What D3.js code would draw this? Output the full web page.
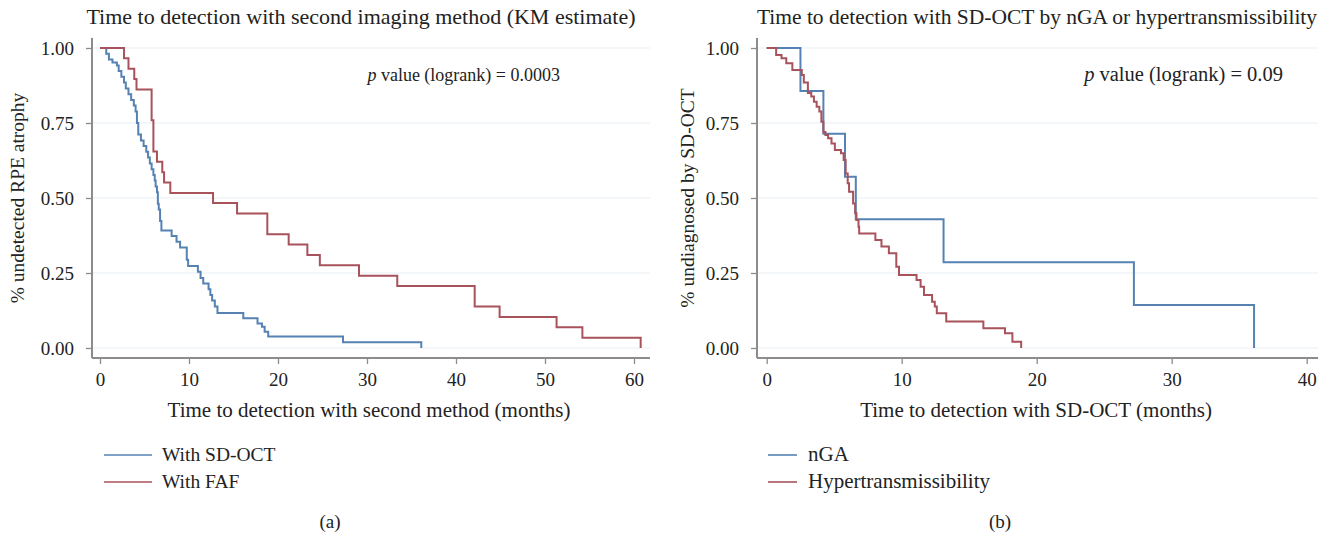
<!DOCTYPE html>
<html>
<head>
<meta charset="utf-8">
<script src="https://cdn.jsdelivr.net/npm/d3@7"></script>
<style>
  html, body { margin: 0; padding: 0; background: #ffffff; }
  svg { display: block; font-family: "Liberation Serif", "Times New Roman", serif; }
</style>
</head>
<body>
<svg id="chart" width="1328" height="533"></svg>
<script>
// ---------- DATA ----------
const panelTitles = [
  "Time to detection with second imaging method (KM estimate)",
  "Time to detection with SD-OCT by nGA or hypertransmissibility"
];
const xAxisTitles = [
  "Time to detection with second method (months)",
  "Time to detection with SD-OCT (months)"
];
const yAxisTitles = ["% undetected RPE atrophy", "% undiagnosed by SD-OCT"];
const pValues = ["0.0003", "0.09"];
const panelLabels = ["(a)", "(b)"];
const yTicks = [0, 0.25, 0.5, 0.75, 1];
const xTicksA = [0, 10, 20, 30, 40, 50, 60];
const xTicksB = [0, 10, 20, 30, 40];
const seriesNamesA = ["With SD-OCT", "With FAF"];
const seriesNamesB = ["nGA", "Hypertransmissibility"];

// [time (months), survival]
const withSDOCT = [
  [0,1.0],[0.7,0.981],[1.0,0.962],[1.4,0.952],[1.9,0.942],[2.1,0.923],[2.4,0.904],[2.7,0.885],
  [2.9,0.865],[3.2,0.846],[3.5,0.827],[3.8,0.808],[4.0,0.788],[4.15,0.75],[4.3,0.712],[4.6,0.692],
  [4.9,0.673],[5.2,0.654],[5.4,0.635],[5.6,0.615],[5.8,0.596],[6.0,0.577],[6.15,0.558],[6.25,0.538],
  [6.4,0.519],[6.5,0.481],[6.6,0.462],[6.75,0.423],[6.9,0.392],[8.05,0.373],[8.6,0.354],[9.0,0.335],
  [9.75,0.294],[9.9,0.273],[11.0,0.254],[11.3,0.233],[11.6,0.215],[12.2,0.196],[12.4,0.177],
  [12.6,0.158],[12.9,0.138],[13.2,0.117],[16.1,0.099],[17.7,0.082],[18.2,0.071],[18.5,0.054],
  [18.9,0.038],[27.3,0.019],[36.1,0]
];
const withFAF = [
  [0,1.0],[2.7,0.966],[3.2,0.931],[3.85,0.897],[4.1,0.862],[5.8,0.759],[6.0,0.655],[6.4,0.621],
  [7.0,0.586],[7.2,0.552],[7.9,0.517],[12.7,0.483],[15.4,0.448],[18.8,0.379],[21.2,0.345],
  [23.3,0.310],[24.7,0.276],[29.1,0.241],[33.4,0.207],[42.1,0.138],[44.9,0.103],[51.3,0.069],
  [54.2,0.034],[60.75,0]
];
const nGA = [
  [0,1.0],[2.5,0.857],[4.2,0.714],[5.8,0.571],[6.6,0.429],[13.1,0.286],[27.2,0.143],[36.1,0]
];
const hypertrans = [
  [0,1.0],[0.7,0.977],[1.1,0.966],[1.45,0.949],[1.9,0.927],[2.6,0.91],[2.75,0.885],[3.05,0.85],
  [3.3,0.838],[3.5,0.821],[3.7,0.804],[3.9,0.788],[4.05,0.754],[4.2,0.72],[4.35,0.71],[4.55,0.699],
  [4.8,0.682],[5.05,0.66],[5.5,0.649],[5.7,0.627],[5.85,0.582],[6.0,0.549],[6.1,0.521],[6.4,0.482],
  [6.55,0.449],[6.65,0.427],[6.8,0.404],[6.85,0.382],[8.05,0.36],[8.5,0.338],[9.05,0.316],
  [9.6,0.271],[9.8,0.243],[11.1,0.227],[11.4,0.204],[11.65,0.177],[12.25,0.154],[12.45,0.138],
  [12.6,0.116],[13.3,0.088],[16.05,0.066],[17.65,0.049],[18.2,0.021],[18.85,0]
];

// ---------- STYLE ----------
const BLUE = "#5582b3";
const RED = "#a8525c";
const AXIS = "#8c8c8c";
const GRID = "#e8f0f3";
const TXT = "#222";

const svg = d3.select("#chart");

function panel(cfg) {
  const g = svg.append("g");
  const x = d3.scaleLinear().domain(cfg.xDomain).range(cfg.xRange);
  const y = d3.scaleLinear().domain([0, 1]).range([348, 48]);
  const L = cfg.box[0], R = cfg.box[1], T = 38, B = 358;

  // gridlines
  g.selectAll("line.grid").data(yTicks).join("line")
    .attr("x1", L + 1).attr("x2", R)
    .attr("y1", d => y(d)).attr("y2", d => y(d))
    .attr("stroke", GRID).attr("stroke-width", 1.2);

  // y axis
  const ya = g.append("g").attr("transform", `translate(${L},0)`)
    .call(d3.axisLeft(y).tickValues(yTicks).tickFormat(d3.format(".2f")).tickSizeOuter(0).tickSize(6).tickPadding(12));
  ya.select(".domain").remove();
  ya.selectAll("line").attr("stroke", AXIS).attr("stroke-width", 1.3);
  ya.selectAll("text").attr("font-size", 19).attr("fill", TXT).attr("font-family", "Liberation Serif");

  // x axis
  const xa = g.append("g").attr("transform", `translate(0,${B})`)
    .call(d3.axisBottom(x).tickValues(cfg.xTicks).tickSizeOuter(0).tickSize(6).tickPadding(9));
  xa.select(".domain").remove();
  xa.selectAll("line").attr("stroke", AXIS).attr("stroke-width", 1.3);
  xa.selectAll("text").attr("font-size", 19).attr("fill", TXT).attr("font-family", "Liberation Serif");

  // axis lines
  g.append("line").attr("x1", L).attr("x2", L).attr("y1", T).attr("y2", B)
    .attr("stroke", AXIS).attr("stroke-width", 2);
  g.append("line").attr("x1", L).attr("x2", R).attr("y1", B).attr("y2", B)
    .attr("stroke", AXIS).attr("stroke-width", 2);

  // curves
  const line = d3.line().x(d => x(d[0])).y(d => y(d[1])).curve(d3.curveStepAfter);
  cfg.series.forEach((s) => {
    g.append("path").datum(s.data).attr("d", line)
      .attr("fill", "none").attr("stroke", s.color).attr("stroke-width", 2);
  });

  // title
  g.append("text").attr("x", cfg.titleX).attr("y", 24).attr("text-anchor", "middle")
    .attr("font-size", cfg.titleSize).attr("fill", TXT).text(cfg.title);
  // x title
  g.append("text").attr("x", cfg.xTitleX).attr("y", 417).attr("text-anchor", "middle")
    .attr("font-size", 21).attr("fill", TXT).text(cfg.xTitle);
  // y title
  g.append("text").attr("transform", `translate(${cfg.yTitleX},198) rotate(-90)`)
    .attr("text-anchor", "middle").attr("font-size", 19.5).attr("fill", TXT).text(cfg.yTitle);
  // p value
  const pt = g.append("text").attr("x", cfg.pX).attr("y", 81).attr("text-anchor", "end")
    .attr("font-size", cfg.pSize).attr("fill", TXT);
  pt.append("tspan").attr("font-style", "italic").text("p");
  pt.append("tspan").text(" value (logrank) = " + cfg.p);

  // legend
  cfg.series.forEach((s, i) => {
    const ly = 455 + i * 27;
    g.append("line").attr("x1", cfg.legX[0]).attr("x2", cfg.legX[1]).attr("y1", ly).attr("y2", ly)
      .attr("stroke", s.color).attr("stroke-width", 1.6);
    g.append("text").attr("x", cfg.legX[2]).attr("y", ly + 6).attr("font-size", cfg.legSize).attr("fill", TXT).text(s.name);
  });

  // panel label
  g.append("text").attr("x", cfg.labelX).attr("y", 528).attr("text-anchor", "middle")
    .attr("font-size", 19).attr("fill", TXT).text(cfg.label);
}

panel({
  xDomain: [0, 60], xRange: [100, 634], box: [92, 650], xTicks: xTicksA,
  title: panelTitles[0], titleX: 361, titleSize: 22, xTitle: xAxisTitles[0], xTitleX: 369,
  yTitle: yAxisTitles[0], yTitleX: 24, p: pValues[0], pX: 560, pSize: 18,
  series: [{name: seriesNamesA[0], data: withSDOCT, color: BLUE}, {name: seriesNamesA[1], data: withFAF, color: RED}],
  legX: [104, 152, 162], legSize: 19.5, label: panelLabels[0], labelX: 330
});
panel({
  xDomain: [0, 40], xRange: [766.7, 1306.7], box: [757, 1318], xTicks: xTicksB,
  title: panelTitles[1], titleX: 1037, titleSize: 21.5, xTitle: xAxisTitles[1], xTitleX: 1036,
  yTitle: yAxisTitles[1], yTitleX: 694, p: pValues[1], pX: 1283, pSize: 20.5,
  series: [{name: seriesNamesB[0], data: nGA, color: BLUE}, {name: seriesNamesB[1], data: hypertrans, color: RED}],
  legX: [768, 797, 808], legSize: 21, label: panelLabels[1], labelX: 1000
});
</script>
</body>
</html>
